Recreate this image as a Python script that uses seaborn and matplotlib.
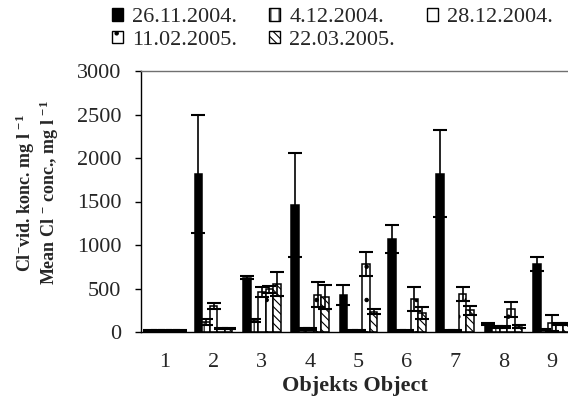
import numpy as np
import pandas as pd
import seaborn as sns
import matplotlib
matplotlib.use("Agg")
import matplotlib.pyplot as plt
from matplotlib.patches import Patch

# ---- data ----
objects = ["1", "2", "3", "4", "5", "6", "7", "8", "9"]
dates = ["26.11.2004.", "4.12.2004.", "28.12.2004.", "11.02.2005.", "22.03.2005."]

v_2611 = [20, 1820, 625, 1460, 430, 1070, 1820, 90, 780]
v_0412 = [20, 110, 130, 35, 20, 20, 20, 60, 30]
v_2812 = [20, 300, 460, 35, 20, 20, 20, 60, 100]
v_1102 = [20, 40, 490, 430, 780, 380, 440, 260, 90]
v_2203 = [20, 40, 550, 400, 235, 220, 250, 60, 90]

e_2611 = [5, 680, 15, 600, 115, 160, 500, 15, 80]
e_0412 = [5, 35, 15, 10, 5, 5, 5, 10, 10]
e_2812 = [5, 33, 60, 10, 5, 5, 5, 10, 90]
e_1102 = [5, 10, 40, 140, 140, 140, 80, 90, 15]
e_2203 = [5, 10, 140, 140, 25, 70, 50, 15, 15]

values = [v_2611, v_0412, v_2812, v_1102, v_2203]
errors = [e_2611, e_0412, e_2812, e_1102, e_2203]

yticks = [0, 500, 1000, 1500, 2000, 2500, 3000]

# ---- styling ----
sns.set_style("white")
plt.rcParams["font.family"] = ["Liberation Serif", "DejaVu Serif"]
plt.rcParams["mathtext.fontset"] = "custom"
plt.rcParams["mathtext.rm"] = "Liberation Serif"
plt.rcParams["mathtext.bf"] = "Liberation Serif:bold"
plt.rcParams["mathtext.default"] = "bf"
plt.rcParams["hatch.linewidth"] = 0.8

rows = []
for d, vals in zip(dates, values):
    for o, v in zip(objects, vals):
        rows.append({"obj": o, "date": d, "val": v})
df = pd.DataFrame(rows)

fig = plt.figure(figsize=(5.68, 3.97), dpi=100)
ax = fig.add_axes([141 / 568, 65 / 397, (576 - 141) / 568, (332 - 71) / 397])

sns.barplot(data=df, x="obj", y="val", hue="date", order=objects, hue_order=dates,
            palette=["white"] * 5, edgecolor="black", linewidth=1.1, width=0.78,
            errorbar=None, legend=False, ax=ax)

faces = ["black", "white", "white", "white", "white"]
hatches = [None, "||", None, ".", "\\\\\\\\"]
for cont, fc, h, errs in zip(ax.containers, faces, hatches, errors):
    xs, ys = [], []
    for p in cont.patches:
        p.set_facecolor(fc)
        p.set_edgecolor("black")
        if h:
            p.set_hatch(h)
        xs.append(p.get_x() + p.get_width() / 2)
        ys.append(p.get_height())
    ax.errorbar(xs, ys, yerr=errs, fmt="none", ecolor="black", elinewidth=1.2,
                capsize=5, capthick=1.5, zorder=5)

ax.set_xlim(-0.5, 8.5)
ax.set_ylim(0, 3000)
ax.set_yticks(yticks)
ax.set_yticklabels([str(t) for t in yticks])
ax.set_xticks(range(len(objects)))
ax.set_xticklabels(objects)
ax.set_xticks(np.arange(-0.5, 9.0, 1.0), minor=True)
ax.tick_params(axis="x", which="major", length=0, pad=15, labelsize=16)
ax.tick_params(axis="x", which="minor", length=5, width=1, direction="out", color="black")
ax.tick_params(axis="y", length=4, width=1, direction="out", pad=10, labelsize=16,
               color="black", left=True)
ax.set_xlabel("")
ax.set_ylabel("")

for s in ["left", "bottom"]:
    ax.spines[s].set_color("black")
    ax.spines[s].set_linewidth(1.0)
ax.spines["top"].set_color("#707070")
ax.spines["top"].set_linewidth(1.0)
ax.spines["right"].set_visible(False)

fig.text(355 / 568, 1 - 386 / 397, "Objekts Object", ha="center", va="center",
         fontsize=16, fontweight="bold")
fig.text(25 / 568, 1 - 193 / 397, r"Cl$^{-}$vid. konc. mg l $^{-1}$", rotation=90,
         ha="center", va="center", fontsize=13, fontweight="bold")
fig.text(49 / 568, 1 - 193 / 397, r"Mean Cl $^{-}$ conc., mg l $^{-1}$", rotation=90,
         ha="center", va="center", fontsize=13, fontweight="bold")

handles = [Patch(facecolor=fc, edgecolor="black", hatch=h, linewidth=1.0)
           for fc, h in zip(faces, hatches)]
order = [0, 3, 1, 4, 2]
fig.legend([handles[i] for i in order], [dates[i] for i in order], ncol=3,
           loc="upper left", bbox_to_anchor=(112 / 568, 1 - 8 / 397), frameon=False,
           fontsize=16, handlelength=0.5, handleheight=0.5, handletextpad=0.4,
           columnspacing=1.45, labelspacing=0.15, borderaxespad=0, borderpad=0)

fig.savefig("out.png", dpi=100)
